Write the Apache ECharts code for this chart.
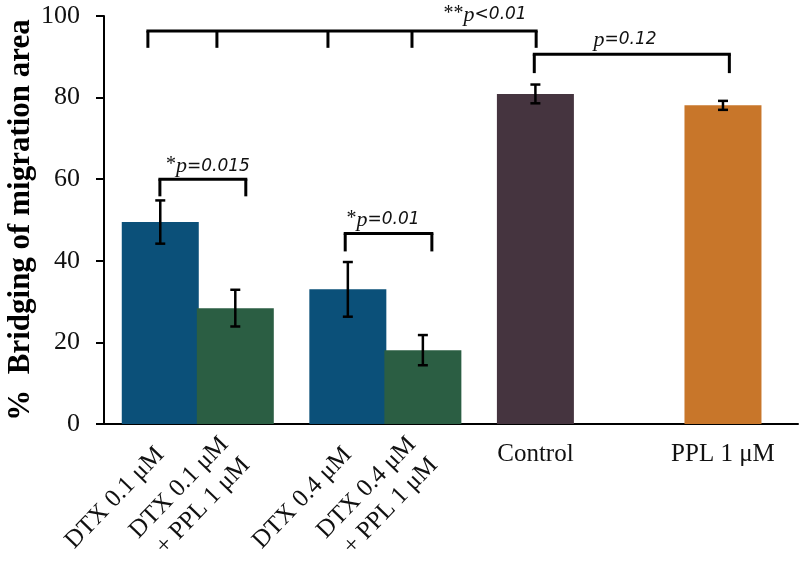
<!DOCTYPE html>
<html><head><meta charset="utf-8">
<script src="https://cdn.jsdelivr.net/npm/echarts@6/dist/echarts.min.js"></script>
<style>html,body{margin:0;padding:0;background:#fff}#c{width:800px;height:572px}</style>
</head><body><div id="c"></div>
<script>
// ---- data ----
const categories = ['DTX 0.1 μM', 'DTX 0.1 μM\n+ PPL 1 μM', 'DTX 0.4 μM', 'DTX 0.4 μM\n+ PPL 1 μM', 'Control', 'PPL 1 μM'];
const means = [49.5, 28.4, 33.0, 18.1, 80.9, 78.1];
const errors = [5.3, 4.5, 6.7, 3.7, 2.3, 1.1];
const yTicks = [0, 20, 40, 60, 80, 100];
// group positions along the x axis (axis units), keeps the uneven spacing of the original
const groupPos = [1.5, 3.5, 6.5, 8.5, 11.5, 16.5];
const rotatedLabel = [true, true, true, true, false, false];
// significance brackets: drop x-positions, bracket level, drop end level
const brackets = [
  { ends: [1.17, 3.01, 5.97, 8.21, 11.52], top: 96.3, bottom: 92.2 },
  { ends: [11.47, 16.67], top: 90.6, bottom: 86.0 },
  { ends: [1.49, 3.78], top: 60.0, bottom: 55.8 },
  { ends: [6.43, 8.74], top: 46.7, bottom: 42.3 }
];
const pLabels = [
  { star: '**', p: 'p', rest: '<0.01', x: 10.16, y: 100.3 },
  { star: '', p: 'p', rest: '=0.12', x: 13.89, y: 94.1 },
  { star: '*', p: 'p', rest: '=0.015', x: 2.77, y: 63.2 },
  { star: '*', p: 'p', rest: '=0.01', x: 7.44, y: 50.0 }
];
// ---- styles ----
const barColors = ['#0b5079', '#2b5e43', '#0b5079', '#2b5e43', '#45343f', '#c8762a'];
const SERIF = '"Liberation Serif", "Times New Roman", serif';

function findIdx(v) {
  for (let i = 0; i < groupPos.length; i++) if (Math.abs(groupPos[i] - v) < 1e-6) return i;
  return -1;
}

const chart = echarts.init(document.getElementById('c'), null, { renderer: 'canvas' });
const option = {
  backgroundColor: '#fff',
  animation: false,
  grid: { left: 104, right: 2, top: 16, bottom: 148, containLabel: false, outerBoundsMode: 'none' },
  xAxis: [
    {
      type: 'value', min: 0, max: 18.5, interval: 0.5,
      axisLine: { show: true, onZero: false, lineStyle: { color: '#000', width: 2 } },
      axisTick: { show: false }, splitLine: { show: false },
      axisLabel: {
        interval: 0, rotate: 46, margin: 27, showMinLabel: true, showMaxLabel: true,
        fontFamily: SERIF, fontSize: 25, color: '#111', lineHeight: 30,
        formatter: function (v) { const i = findIdx(v); return (i >= 0 && rotatedLabel[i]) ? categories[i] : ''; }
      }
    },
    {
      type: 'value', min: 0, max: 18.5, interval: 0.5, position: 'bottom', offset: 0,
      axisLine: { show: false }, axisTick: { show: false }, splitLine: { show: false },
      axisLabel: {
        interval: 0, rotate: 0, margin: 18,
        fontFamily: SERIF, fontSize: 25, color: '#111',
        formatter: function (v) { const i = findIdx(v); return (i >= 0 && !rotatedLabel[i]) ? categories[i] : ''; }
      }
    }
  ],
  yAxis: {
    type: 'value', min: yTicks[0], max: yTicks[yTicks.length - 1], interval: yTicks[1] - yTicks[0],
    name: '%  Bridging of migration area', nameLocation: 'middle', nameGap: 68, nameMoveOverlap: false,
    nameTextStyle: { fontFamily: SERIF, fontSize: 31, fontWeight: 'bold', color: '#000' },
    axisLine: { show: true, lineStyle: { color: '#000', width: 2 } },
    axisTick: { show: true, inside: false, length: 8, lineStyle: { color: '#000', width: 2 } },
    splitLine: { show: false },
    axisLabel: { margin: 24, fontFamily: SERIF, fontSize: 26, color: '#111' }
  },
  series: [
    {
      type: 'bar', xAxisIndex: 0, barWidth: 77,
      data: means.map((m, i) => ({ value: [groupPos[i], m], itemStyle: { color: barColors[i] } }))
    },
    {
      type: 'custom', xAxisIndex: 0, z: 5,
      data: means.map((m, i) => [groupPos[i], m, errors[i]]),
      renderItem: function (params, api) {
        const x = api.value(0), m = api.value(1), e = api.value(2);
        const t = api.coord([x, m + e]), b = api.coord([x, m - e]);
        const w = 5, st = { stroke: '#000', lineWidth: 2.5 };
        return { type: 'group', children: [
          { type: 'line', shape: { x1: t[0], y1: t[1], x2: b[0], y2: b[1] }, style: st },
          { type: 'line', shape: { x1: t[0] - w, y1: t[1], x2: t[0] + w, y2: t[1] }, style: st },
          { type: 'line', shape: { x1: b[0] - w, y1: b[1], x2: b[0] + w, y2: b[1] }, style: st }
        ] };
      }
    },
    {
      type: 'custom', xAxisIndex: 0, z: 6, clip: false,
      data: brackets.map((b, i) => [b.ends[0], b.top, i]),
      renderItem: function (params, api) {
        const br = brackets[api.value(2)];
        const st = { stroke: '#000', lineWidth: 3, lineCap: 'butt' };
        const first = api.coord([br.ends[0], br.top]);
        const last = api.coord([br.ends[br.ends.length - 1], br.top]);
        const ch = [{ type: 'line', shape: { x1: first[0] - 1.5, y1: first[1], x2: last[0] + 1.5, y2: last[1] }, style: st }];
        br.ends.forEach(function (ex) {
          const p1 = api.coord([ex, br.top]), p2 = api.coord([ex, br.bottom]);
          ch.push({ type: 'line', shape: { x1: p1[0], y1: p1[1], x2: p2[0], y2: p2[1] }, style: st });
        });
        return { type: 'group', children: ch };
      }
    },
    {
      type: 'custom', xAxisIndex: 0, z: 7, clip: false,
      data: pLabels.map((l, i) => [l.x, l.y, i]),
      renderItem: function (params, api) {
        const l = pLabels[api.value(2)];
        const p = api.coord([l.x, l.y]);
        return {
          type: 'text', x: p[0], y: p[1],
          style: {
            text: (l.star ? '{s|' + l.star + '}' : '') + '{p|' + l.p + '}{n|' + l.rest + '}',
            align: 'center', verticalAlign: 'middle',
            rich: {
              s: { fontFamily: SERIF, fontSize: 20, fill: '#111', verticalAlign: 'top' },
              p: { fontFamily: SERIF, fontStyle: 'italic', fontSize: 22, fill: '#111' },
              n: { fontFamily: '"DejaVu Sans", sans-serif', fontStyle: 'italic', fontSize: 17, fill: '#111' }
            }
          }
        };
      }
    }
  ]
};
chart.setOption(option);
</script>
</body></html>
